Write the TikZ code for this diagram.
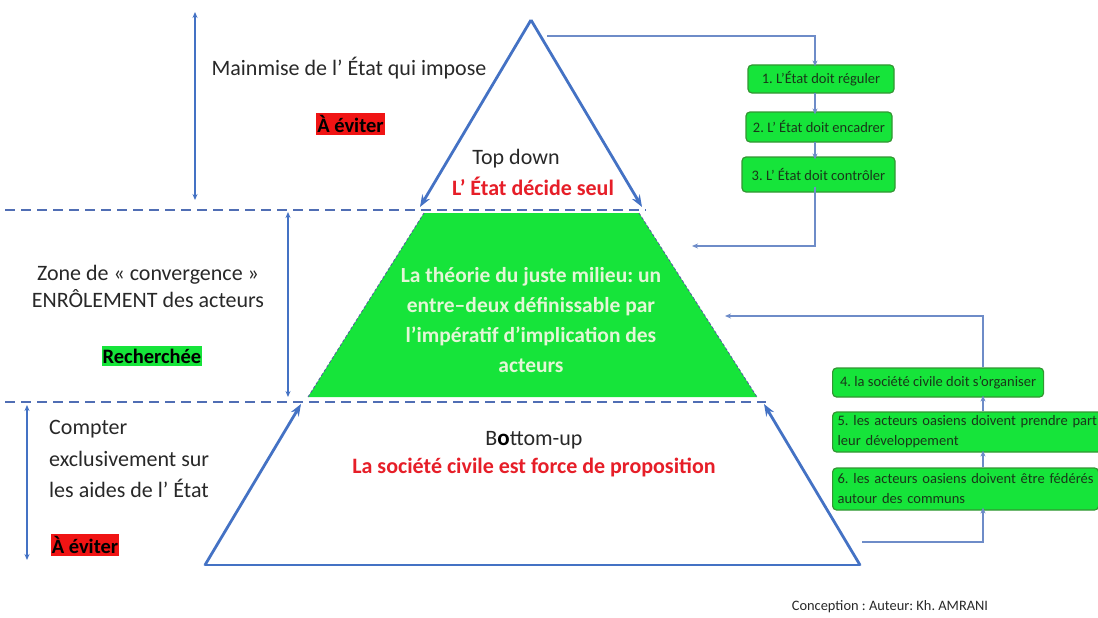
\documentclass[tikz,border=0pt]{standalone}
\usepackage{fontspec}
\setmainfont{Carlito}
\usetikzlibrary{arrows.meta}
\frenchspacing
\definecolor{tblue}{RGB}{68,114,196}
\definecolor{dblue}{RGB}{80,110,180}
\definecolor{fblue}{RGB}{110,140,200}
\definecolor{bgreen}{RGB}{22,228,58}
\definecolor{dgreen}{RGB}{50,150,50}
\definecolor{rtext}{RGB}{230,30,40}
\definecolor{rbg}{RGB}{240,20,20}
\definecolor{pale}{RGB}{228,246,215}
\definecolor{btext}{RGB}{25,55,25}
\definecolor{gtext}{RGB}{40,40,40}
\tikzset{
  big/.style={font=\fontsize{22}{27}\selectfont, text=gtext, inner sep=1pt},
  redlbl/.style={font=\fontsize{22}{27}\selectfont\bfseries, text=rtext, inner sep=1pt},
  tag/.style={font=\fontsize{20.5}{24}\selectfont\bfseries, text=black, inner xsep=1pt, inner ysep=2.5pt},
  tri/.style={draw=tblue, line width=2.8pt, -{Stealth[length=12pt,width=9pt]}},
  dline/.style={draw=dblue, line width=2.2pt, dash pattern=on 10pt off 6pt},
  varrow/.style={draw=tblue, line width=1.1pt, {Stealth[length=6pt,width=5pt]}-{Stealth[length=6pt,width=5pt]}},
  flow/.style={draw=fblue, line width=1.3pt},
  flowarr/.style={flow, -{Stealth[length=6pt,width=5pt]}},
  gbox/.style={draw=dgreen, line width=1.2pt, fill=bgreen, rounded corners=4pt, text=btext,
     font=\fontsize{14.5}{20}\selectfont, inner xsep=5pt, inner ysep=3pt},
}
\begin{document}
\begin{tikzpicture}[x=1pt,y=-1pt]
\useasboundingbox (0,0) rectangle (1098,618);
% triangle geometry
\coordinate (A) at (531,20);
\coordinate (TL) at (420,207);
\coordinate (TR) at (642,207);
\coordinate (BL) at (205,565);
\coordinate (BR) at (860,565);
\coordinate (ML) at (301,404);
\coordinate (MR) at (764,404);
% green trapezoid
\coordinate (g1) at (424,213);
\coordinate (g2) at (639,213);
\coordinate (g3) at (757,397);
\coordinate (g4) at (308,397);
\fill[bgreen] (g1) -- (g2) -- (g3) -- (g4) -- cycle;
\draw[gray!70!blue, line width=0.8pt, dash pattern=on 3pt off 2pt] (g2) -- (g3) (g4) -- (g1);
% dashed separators
\coordinate (d1) at (5,210);
\coordinate (d2) at (646,210);
\coordinate (d3) at (5,402);
\coordinate (d4) at (766,402);
\draw[dline] (d1) -- (d2);
\draw[dline] (d3) -- (d4);
% triangle sides
\draw[tri] (A) -- (TL);
\draw[tri] (A) -- (TR);
\draw[tri] (BL) -- (ML);
\draw[tri] (BR) -- (MR);
\draw[draw=tblue, line width=2.8pt, line cap=round] (BL) -- (BR);
% vertical double arrows
\coordinate (v1a) at (195,12);
\coordinate (v1b) at (195,200);
\coordinate (v2a) at (288,212);
\coordinate (v2b) at (288,397);
\coordinate (v3a) at (27,405);
\coordinate (v3b) at (27,560);
\draw[varrow] (v1a) -- (v1b);
\draw[varrow] (v2a) -- (v2b);
\draw[varrow] (v3a) -- (v3b);
% left texts
\node[big] (mainmise) at (349,68) {Mainmise de l’ État qui impose};
\node[tag, fill=rbg] (eviter1) at (350.5,124) {À éviter};
\node[big, align=center] (zone) at (148,286) {Zone de « convergence »\\ENRÔLEMENT des acteurs};
\node[tag, fill=bgreen] (recherche) at (152,356) {Recherchée};
\node[big, align=left, anchor=west, font=\fontsize{22}{31.5}\selectfont] (compter) at (48,459) {Compter\\exclusivement sur\\les aides de l’ État};
\node[tag, fill=rbg] (eviter2) at (85,545) {À éviter};
% pyramid texts
\node[big] (topdown) at (516,159) {Top down};
\node[redlbl] (decide) at (533,186) {L’ État décide seul};
\node[align=center, text=pale, font=\fontsize{21.5}{30}\selectfont\bfseries] (milieu) at (531,320)
  {La théorie du juste milieu: un\\entre--deux définissable par\\l’impératif d’implication des\\acteurs};
\node[big] (bottomup) at (534,440) {B{\bfseries\fontsize{23}{27}\selectfont\color{black}o}ttom-up};
\node[redlbl] (societe) at (534,467) {La société civile est force de proposition};
% right flow, top
\node[gbox, minimum width=146pt, minimum height=28pt] (b1) at (821,79) {1. L’État doit réguler};
\node[gbox, minimum width=146pt, minimum height=30pt] (b2) at (819,127) {2. L’ État doit encadrer};
\node[gbox, minimum width=153pt, minimum height=35pt] (b3) at (818.5,174.5) {3. L’ État doit contrôler};
\coordinate (cx) at (815,0);
\coordinate (s1) at (547,36);
\coordinate (in1) at (692,246);
\draw[flowarr] (s1) -| ([yshift=-2pt]b1.north -| cx);
\draw[flowarr] ([yshift=1pt]b1.south -| cx) -- ([yshift=-3pt]b2.north -| cx);
\draw[flowarr] ([yshift=1pt]b2.south -| cx) -- ([yshift=-3pt]b3.north -| cx);
\draw[flowarr] ([yshift=6pt]b3.south -| cx) |- (in1);
% right flow, bottom
\node[gbox, minimum width=211pt, minimum height=29pt, anchor=west] (b4) at (832,382.5) {4. la société civile doit s’organiser};
\node[gbox, minimum width=285pt, minimum height=40pt, anchor=west, text width=275pt, align=left] (b5) at (832,432)
  {\mbox{5. les acteurs oasiens doivent prendre part à}\\\mbox{leur développement}};
\node[gbox, minimum width=266pt, minimum height=42pt, anchor=west, text width=256pt, align=left] (b6) at (832,489)
  {\mbox{6. les acteurs oasiens doivent être fédérés}\\\mbox{autour des communs}};
\coordinate (cx2) at (983,0);
\coordinate (s2) at (862,542);
\coordinate (in2) at (725,316);
\draw[flowarr] (s2) -| ([yshift=3pt]b6.south -| cx2);
\draw[flowarr] (b6.north -| cx2) -- ([yshift=2pt]b5.south -| cx2);
\draw[flowarr] (b5.north -| cx2) -- ([yshift=2pt]b4.south -| cx2);
\draw[flowarr] (b4.north -| cx2) |- (in2);
% credit
\node[font=\fontsize{14.4}{17}\selectfont, text=gtext] (credit) at (890,607) {Conception : Auteur: Kh. AMRANI};
\end{tikzpicture}
\end{document}
